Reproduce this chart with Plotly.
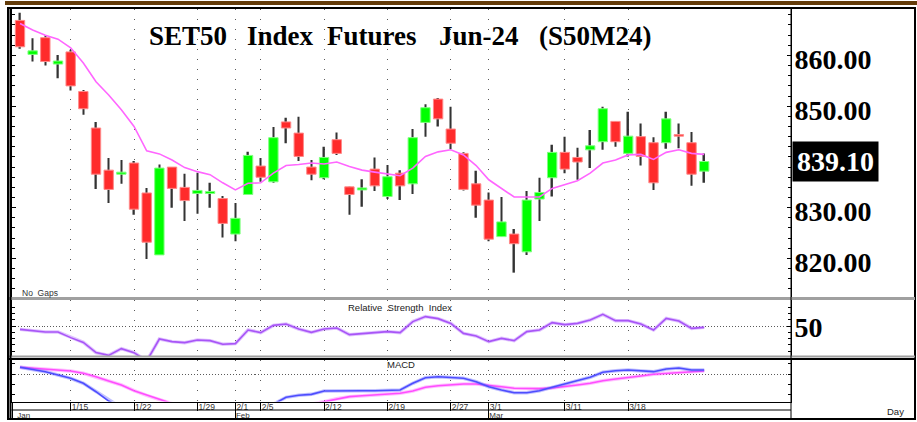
import plotly.graph_objects as go

# ---------------- data ----------------
dates = ['1/9', '1/10', '1/11', '1/12', '1/15', '1/16', '1/17', '1/18', '1/19', '1/22',
         '1/23', '1/24', '1/25', '1/26', '1/29', '1/30', '1/31',
         '2/1', '2/2', '2/5', '2/6', '2/7', '2/8', '2/9', '2/12', '2/13', '2/14', '2/15',
         '2/16', '2/19', '2/20', '2/21', '2/22', '2/23', '2/27', '2/28', '2/29',
         '3/1', '3/4', '3/5', '3/6', '3/7', '3/8', '3/11', '3/12', '3/13', '3/14', '3/15',
         '3/18', '3/19', '3/20', '3/21', '3/22', '3/25', '3/26']
opens = [866.9, 860.2, 863.5, 858.3, 860.7, 852.9, 845.7, 837.4, 836.6, 838.8,
         832.9, 820.7, 838.0, 834.0, 832.8, 832.8, 831.8,
         824.8, 832.6, 838.2, 835.1, 846.9, 844.7, 838.0, 835.9, 843.4, 834.1, 833.5,
         837.6, 832.2, 836.8, 834.7, 846.8, 851.4, 845.5, 840.7, 834.7,
         831.5, 824.3, 824.8, 821.3, 831.7, 835.9, 840.9, 839.9, 841.4, 843.0, 847.0,
         840.7, 844.0, 842.8, 842.8, 844.4, 842.8, 837.2]
highs = [868.4, 863.4, 864.0, 860.1, 861.1, 853.2, 846.9, 839.8, 839.4, 839.2,
         833.9, 838.5, 838.0, 836.7, 836.9, 834.9, 832.3,
         830.9, 841.0, 839.8, 845.9, 847.7, 847.9, 839.4, 842.0, 844.8, 834.1, 835.6,
         839.9, 838.4, 837.4, 845.5, 850.4, 851.6, 849.9, 840.9, 837.3,
         833.0, 832.1, 825.8, 833.3, 835.9, 842.4, 844.0, 841.8, 845.3, 849.9, 847.0,
         848.9, 846.6, 843.9, 848.9, 846.6, 844.9, 840.7]
lows = [861.3, 858.8, 858.0, 855.5, 853.1, 848.3, 833.7, 830.9, 834.7, 828.6,
        819.9, 820.7, 830.0, 827.4, 828.8, 830.0, 824.1,
        823.4, 832.6, 835.1, 834.9, 842.7, 839.2, 835.4, 835.6, 840.4, 828.6, 830.2,
        833.3, 831.7, 831.5, 832.7, 844.0, 846.0, 841.5, 833.4, 828.0,
        823.4, 824.3, 817.2, 820.7, 827.4, 832.2, 836.8, 835.5, 837.8, 841.4, 842.0,
        840.1, 838.3, 833.5, 841.6, 841.7, 834.3, 834.9]
closes = [861.7, 860.9, 858.8, 858.9, 854.0, 849.5, 836.6, 833.6, 837.0, 829.7,
          823.2, 837.8, 833.8, 831.4, 833.4, 833.2, 826.9,
          827.9, 840.3, 836.0, 843.8, 845.7, 840.1, 836.6, 839.9, 840.7, 832.6, 833.9,
          834.3, 836.1, 834.3, 843.8, 849.7, 847.5, 842.7, 833.6, 830.5,
          823.8, 827.2, 822.9, 831.5, 833.0, 840.9, 837.6, 839.0, 842.2, 849.5, 843.0,
          844.1, 840.1, 834.9, 847.5, 844.1, 836.6, 839.1]
ma = [866.3, 865.0, 864.0, 863.2, 861.5, 858.5, 854.8, 852.2, 849.3, 846.0,
      841.2, 840.6, 839.4, 837.9, 837.1, 836.5, 834.9,
      833.5, 834.8, 834.9, 836.8, 838.3, 838.5, 838.8, 838.6, 839.0, 838.1, 837.4,
      837.0, 836.6, 836.3, 837.8, 840.1, 841.0, 841.4, 840.4, 838.3,
      835.5, 833.8, 832.1, 832.1, 832.1, 833.8, 834.6, 835.3, 836.8, 838.8, 839.4,
      840.4, 840.5, 839.5, 840.9, 841.4, 840.7, 840.5]
rsi = [47.3, 46.3, 45.2, 45.2, 40.7, 36.9, 28.7, 26.5, 31.9, 28.7,
       22.0, 39.6, 37.5, 36.7, 38.8, 38.3, 35.4,
       35.9, 46.8, 44.7, 50.5, 51.6, 47.6, 44.9, 47.6, 48.4, 43.1, 43.9,
       44.7, 45.5, 44.7, 53.5, 57.5, 55.9, 52.1, 44.1, 42.0,
       37.5, 40.1, 38.3, 45.5, 46.8, 52.7, 51.1, 52.1, 54.8, 59.3, 54.3,
       54.3, 51.6, 46.8, 56.1, 54.0, 48.1, 48.9]
macd = [1.36, 0.97, 0.51, -0.14, -0.78, -1.75, -3.38, -5.19, -6.5, -7.5,
        -8.8, -8.6, -8.7, -8.8, -8.7, -8.5, -8.6,
        -8.3, -7.4, -6.8, -5.8, -4.47, -4.08, -3.89, -3.24, -3.18, -3.18, -3.18,
        -3.18, -3.18, -3.05, -1.75, -0.66, -0.47, -0.58, -0.78, -1.43,
        -2.41, -3.05, -3.57, -3.57, -3.18, -2.53, -1.88, -1.24, -0.58, 0.39, 0.70,
        0.83, 0.70, 0.51, 1.03, 1.22, 0.83, 0.83]
signal = [1.36, 1.2, 1.03, 0.83, 0.64, 0.19, -0.47, -1.30, -2.08, -3.18,
          -4.08, -4.99, -5.9, -6.5, -7.0, -7.4, -7.7,
          -7.9, -7.9, -7.6, -7.2, -6.8, -6.3, -5.8, -5.3, -4.73, -4.34, -4.15,
          -4.02, -3.89, -3.69, -3.24, -2.53, -2.21, -2.01, -1.88, -1.88,
          -2.08, -2.41, -2.72, -2.79, -2.79, -2.66, -2.41, -2.08, -1.75, -1.24, -0.91,
          -0.66, -0.33, 0.0, 0.19, 0.39, 0.51, 0.64]
price_labels = [820, 830, 850, 860]
tick_dates = ['1/15', '1/22', '1/29', '2/1', '2/5', '2/12', '2/19', '2/27', '3/1', '3/11', '3/18']
month_labels = ['Jan', 'Feb', 'Mar']
month_starts = ['2/1', '3/1']
title_words = ['SET50', 'Index', 'Futures', 'Jun-24', '(S50M24)']
last_price = closes[-1]

# ---------------- layout helpers ----------------
W, H = 917, 422
def PX(p): return p / W
def PY(p): return 1 - p / H

XL, XR = 11.5, 791.0
MAIN = (9, 297)
RSIP = (300, 356)
MACDP = (359.5, 401.5)
X_RANGE = [-0.67, 60.85]

xi = list(range(len(dates)))
tick_pos = [dates.index(d) for d in tick_dates]
month_pos = [-0.6] + [dates.index(d) for d in month_starts]

up = [c >= o for o, c in zip(opens, closes)]
body_base = [min(o, c) for o, c in zip(opens, closes)]
body_h = [abs(c - o) for o, c in zip(opens, closes)]
wick_h = [h - l for h, l in zip(highs, lows)]
body_col = ['#00FF00' if u else '#FF2B2B' for u in up]
edge_col = ['#80FF80' if u else '#FF8A8A' for u in up]

serif = 'Liberation Serif'
sans = 'Liberation Sans'
GRIDC = '#5a5a5a'

fig = go.Figure()
fig.add_trace(go.Bar(x=xi, base=lows, y=wick_h, width=0.12, marker_color='#333333',
                     marker_line_width=0, xaxis='x', yaxis='y', hoverinfo='skip'))
fig.add_trace(go.Bar(x=xi, base=body_base, y=body_h, width=0.74, marker_color=body_col,
                     marker_line_color=edge_col, marker_line_width=1, xaxis='x', yaxis='y'))
fig.add_trace(go.Scatter(x=xi, y=ma, mode='lines', line=dict(color='#FF66FF', width=1.6),
                         xaxis='x', yaxis='y'))
fig.add_trace(go.Scatter(x=xi, y=rsi, mode='lines', line=dict(color='rgba(170,85,255,0.35)', width=3.5),
                         xaxis='x2', yaxis='y3'))
fig.add_trace(go.Scatter(x=xi, y=rsi, mode='lines', line=dict(color='#A855F7', width=1.6),
                         xaxis='x2', yaxis='y3'))
fig.add_trace(go.Scatter(x=xi, y=signal, mode='lines', line=dict(color='rgba(255,80,255,0.35)', width=3.5),
                         xaxis='x3', yaxis='y4'))
fig.add_trace(go.Scatter(x=xi, y=signal, mode='lines', line=dict(color='#FF4DFF', width=1.6),
                         xaxis='x3', yaxis='y4'))
fig.add_trace(go.Scatter(x=xi, y=macd, mode='lines', line=dict(color='rgba(80,80,255,0.35)', width=3.5),
                         xaxis='x3', yaxis='y4'))
fig.add_trace(go.Scatter(x=xi, y=macd, mode='lines', line=dict(color='#4D4DFF', width=1.6),
                         xaxis='x3', yaxis='y4'))
# invisible carrier so the month axis is laid out
fig.add_trace(go.Scatter(x=xi, y=macd, mode='lines', line=dict(width=0), opacity=0,
                         xaxis='x4', yaxis='y4', hoverinfo='skip'))

xdom = [PX(XL), PX(XR)]
common_x = dict(domain=xdom, range=X_RANGE, tickmode='array', tickvals=tick_pos,
                showgrid=True, gridcolor=GRIDC, griddash='1px,9px', gridwidth=1,
                zeroline=False, showline=False, ticks='', showticklabels=False)

layout = dict(
    width=W, height=H, margin=dict(l=0, r=0, t=0, b=0),
    paper_bgcolor='white', plot_bgcolor='white', showlegend=False, barmode='overlay',
    xaxis=dict(anchor='y', **common_x),
    xaxis2=dict(anchor='y3', matches='x', **common_x),
    xaxis3=dict(anchor='y4', matches='x', **{**common_x, 'ticks': 'outside', 'ticklen': 8,
                'tickcolor': 'black', 'tickwidth': 1, 'showticklabels': True,
                'ticktext': tick_dates, 'ticklabelposition': 'outside right',
                'ticklabelstandoff': -3, 'tickangle': 0,
                'tickfont': dict(family=sans, size=8.5, color='#333'),
                'showline': True, 'linecolor': 'black', 'linewidth': 1}),
    xaxis4=dict(overlaying='x3', anchor='y4', domain=xdom, range=X_RANGE, tickmode='array',
                tickvals=month_pos, ticktext=['\u00a0\u00a0' + month_labels[0]] + month_labels[1:],
                ticks='outside', ticklen=17, tickcolor='black', tickwidth=1,
                ticklabelposition='outside right', ticklabelstandoff=6, tickangle=0,
                tickfont=dict(family=sans, size=8, color='#333'),
                showgrid=False, zeroline=False, showline=False),
    yaxis=dict(anchor='x', domain=[PY(MAIN[1]), PY(MAIN[0])], side='right',
               range=[812.4, 869.15], tickmode='array', tickvals=price_labels, tickformat='.2f',
               tickfont=dict(family=serif, size=28, color='black', weight='bold'),
               ticks='inside', ticklen=4, tickcolor='black', ticklabelshift=4,
               ticklabelstandoff=-3,
               minor=dict(tickmode='linear', tick0=820, dtick=2, ticks='inside', ticklen=3,
                          tickcolor='black'),
               showline=True, linecolor='black', linewidth=1, mirror='ticks',
               showgrid=False, zeroline=False),
    yaxis2=dict(overlaying='y', side='left', range=[812.4, 869.15], tickmode='linear',
                tick0=820, dtick=20, showgrid=True, gridcolor=GRIDC, griddash='1px,2px',
                showticklabels=False, ticks='', zeroline=False, showline=False),
    yaxis3=dict(anchor='x2', domain=[PY(RSIP[1]), PY(RSIP[0])], side='right',
                range=[26.0, 70.8], tickmode='array', tickvals=[50], ticktext=['50'],
                tickfont=dict(family=serif, size=28, color='black', weight='bold'),
                ticks='inside', ticklen=4, tickcolor='black', ticklabelshift=1,
                ticklabelstandoff=-3,
                minor=dict(tickmode='linear', tick0=0, dtick=5, ticks='inside', ticklen=3,
                           tickcolor='black'),
                showgrid=True, gridcolor=GRIDC, griddash='1px,2px',
                showline=True, linecolor='black', linewidth=1, mirror='ticks', zeroline=False),
    yaxis4=dict(anchor='x3', domain=[PY(MACDP[1]), PY(MACDP[0])], side='right',
                range=[-5.28, 2.87], tickmode='array', tickvals=[0], showticklabels=False,
                ticks='inside', ticklen=3, tickcolor='black',
                minor=dict(tickmode='linear', tick0=0, dtick=2, ticks='inside', ticklen=3,
                           tickcolor='black'),
                showgrid=True, gridcolor=GRIDC, griddash='1px,2px',
                showline=True, linecolor='black', linewidth=1, mirror='ticks', zeroline=False),
)
fig.update_layout(**layout)

# ---------------- frame decoration ----------------
shapes = [
    dict(type='rect', xref='paper', yref='paper', x0=PX(5), x1=PX(917), y0=PY(5), y1=PY(1),
         fillcolor='#643c0a', line_width=0),
    dict(type='rect', xref='paper', yref='paper', x0=PX(8), x1=PX(915), y0=PY(419), y1=PY(8),
         line=dict(color='black', width=2)),
    dict(type='line', xref='paper', yref='paper', x0=PX(9), x1=PX(915), y0=PY(298.5), y1=PY(298.5),
         line=dict(color='#a0a0a0', width=3)),
    dict(type='line', xref='paper', yref='paper', x0=PX(9), x1=PX(915), y0=PY(356.5), y1=PY(356.5),
         line=dict(color='#a0a0a0', width=2)),
    dict(type='line', xref='paper', yref='paper', x0=PX(9), x1=PX(915), y0=PY(359), y1=PY(359),
         line=dict(color='black', width=2)),
    dict(type='line', xref='paper', yref='paper', x0=PX(XL), x1=PX(XR), y0=PY(410), y1=PY(410),
         line=dict(color='black', width=1)),
    dict(type='line', xref='paper', yref='paper', x0=PX(XR), x1=PX(XR), y0=PY(418), y1=PY(9),
         line=dict(color='black', width=1)),
    dict(type='line', xref='paper', yref='paper', x0=PX(10.5), x1=PX(10.5), y0=PY(418), y1=PY(9),
         line=dict(color='black', width=2)),
]
fig.update_layout(shapes=shapes)

title_x = [147, 245, 325, 437, 537]
ann = []
for w, xp in zip(title_words, title_x):
    ann.append(dict(text=w, x=PX(xp), y=PY(36), xref='paper', yref='paper', xanchor='left',
                    yanchor='middle', showarrow=False,
                    font=dict(family=serif, size=27, color='black', weight='bold')))
ann += [
    dict(text=f'{last_price:.2f}', x=PX(792), y=last_price, xref='paper', yref='y',
         xanchor='left', yanchor='middle', showarrow=False, bgcolor='black', borderpad=4,
         font=dict(family=serif, size=28, color='white', weight='bold')),
    dict(text='No  Gaps', x=PX(20), y=PY(293), xref='paper', yref='paper', xanchor='left',
         yanchor='middle', showarrow=False, font=dict(family=sans, size=8.5, color='#333')),
    dict(text='Relative  Strength  Index', x=PX(400), y=PY(307), xref='paper', yref='paper',
         xanchor='center', yanchor='middle', showarrow=False,
         font=dict(family=sans, size=9.5, color='#222')),
    dict(text='MACD', x=PX(401), y=PY(364), xref='paper', yref='paper',
         xanchor='center', yanchor='middle', showarrow=False,
         font=dict(family=sans, size=9.5, color='#222')),
    dict(text='Day', x=PX(906), y=PY(411), xref='paper', yref='paper',
         xanchor='right', yanchor='middle', showarrow=False,
         font=dict(family=sans, size=9.5, color='#222')),
]
fig.update_layout(annotations=ann)

fig.write_html('out.html', config={'displayModeBar': False},
               post_script="document.body.style.margin='0';")
